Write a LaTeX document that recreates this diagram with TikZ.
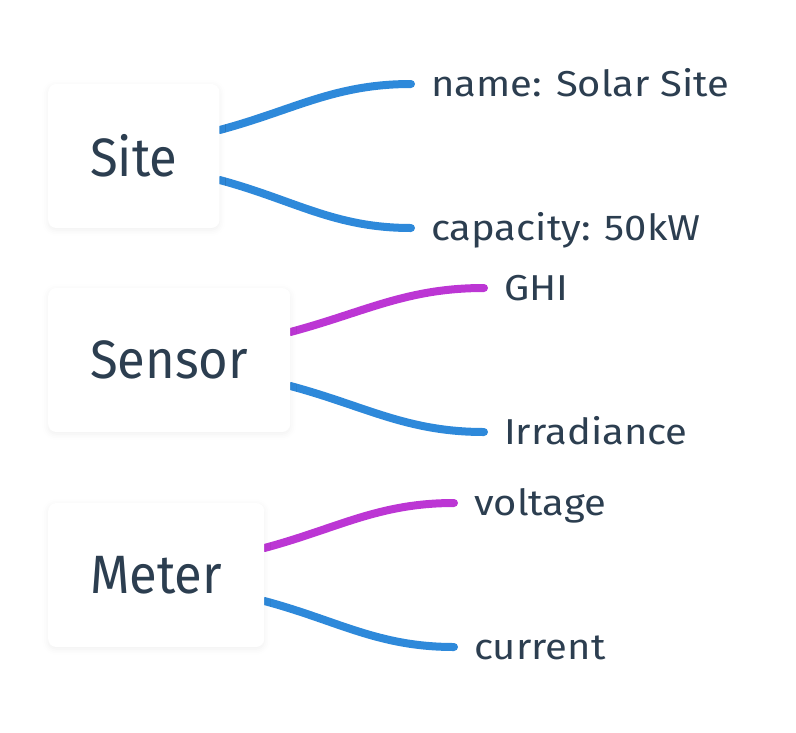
\documentclass[tikz,border=0pt]{standalone}
\usepackage{fontspec}
\setmainfont{Fira Sans}
\newfontfamily\boxfont{Fira Sans}[FakeStretch=0.94]
\newfontfamily\fogliafont{Fira Sans}[FakeStretch=1.11]
\usetikzlibrary{positioning,backgrounds,shadows.blur}

\definecolor{testo}{HTML}{2C3E50}
\definecolor{blu}{HTML}{2E89DA}
\definecolor{viola}{HTML}{BC36D4}

\begin{document}
\begin{tikzpicture}[x=1pt,y=-1pt,
    box/.style={fill=white, rounded corners=8pt, anchor=west,
        minimum height=144pt, inner xsep=42pt, text=testo,
        font=\boxfont\fontsize{54}{60}\selectfont,
        blur shadow={shadow xshift=0pt, shadow yshift=-2pt,
            shadow blur radius=6pt, shadow opacity=6}},
    foglia/.style={anchor=west, inner xsep=20pt, inner ysep=0pt,
        text height=25pt, text depth=0pt, text=testo,
        font=\fogliafont\fontsize{36}{40}\selectfont},
    ramo/.style={line width=8pt, line cap=round}]

    \useasboundingbox (0,0) rectangle (796,732);

    % Nodi principali
    \node[box] (site)   at (48,156) {Site};
    \node[box] (sensor) at (48,360) {Sensor};
    \node[box] (meter)  at (48,575) {Meter};

    % Attributi
    \node[foglia] (nome)     at (411,84)  {name: Solar Site};
    \node[foglia] (capacita) at (411,228) {capacity: 50kW};
    \node[foglia] (ghi)      at (484,288) {GHI};
    \node[foglia] (irr)      at (484,432) {Irradiance};
    \node[foglia] (volt)     at (454,503) {voltage};
    \node[foglia] (corr)     at (454,647) {current};

    % Rami
    \begin{scope}[on background layer]
    \draw[ramo, blu]   ([yshift=26pt]site.east)   to[out=15,in=180] (nome.west);
    \draw[ramo, blu]   ([yshift=-24pt]site.east)  to[out=-15,in=180] (capacita.west);
    \draw[ramo, viola] ([yshift=28pt]sensor.east) to[out=15,in=180] (ghi.west);
    \draw[ramo, blu]   ([yshift=-26pt]sensor.east) to[out=-15,in=180] (irr.west);
    \draw[ramo, viola] ([yshift=27pt]meter.east)  to[out=15,in=180] (volt.west);
    \draw[ramo, blu]   ([yshift=-26pt]meter.east) to[out=-15,in=180] (corr.west);
    \end{scope}

\end{tikzpicture}
\end{document}
